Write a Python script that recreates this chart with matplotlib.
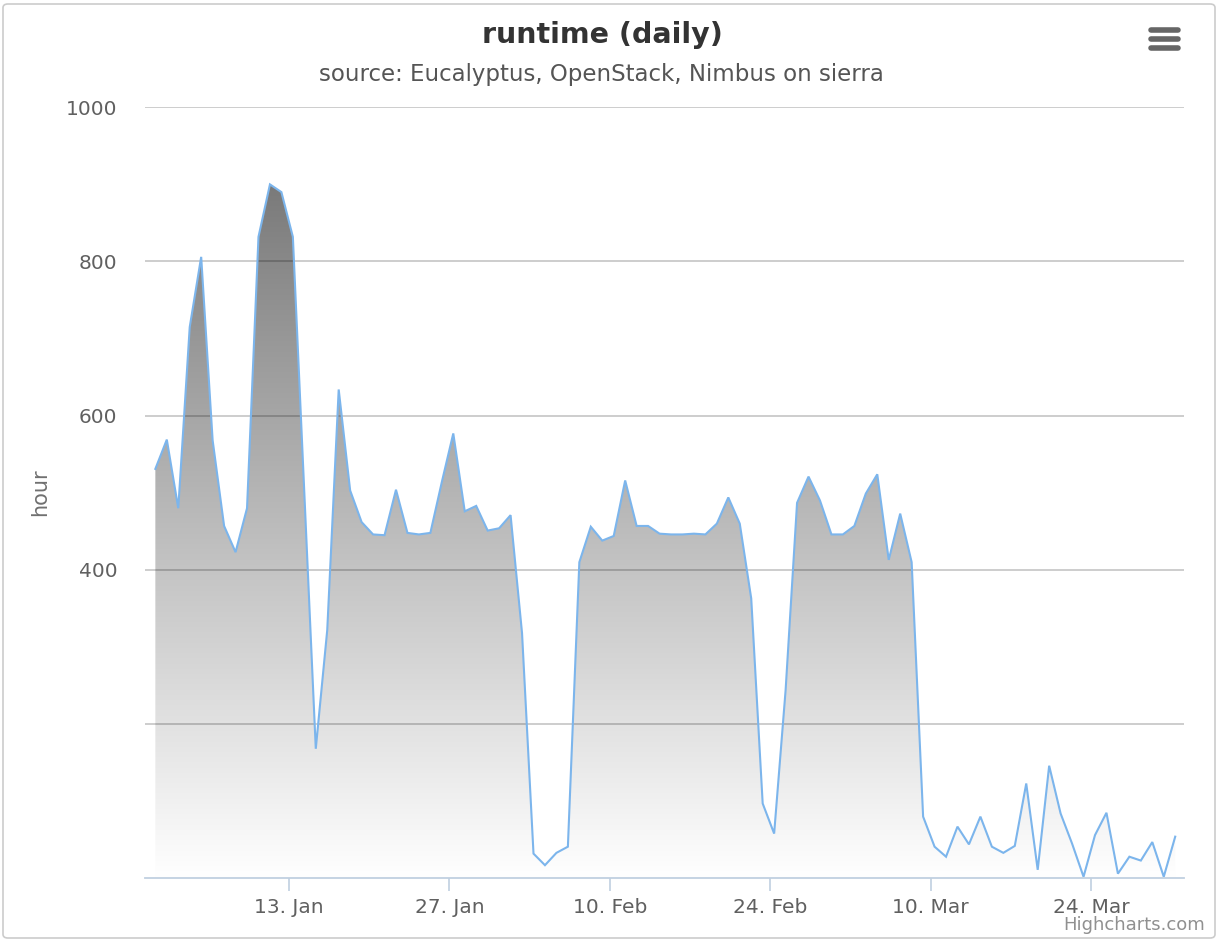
import datetime as dt
import numpy as np
import matplotlib
matplotlib.use("Agg")
import matplotlib.pyplot as plt
import matplotlib.dates as mdates
from matplotlib.colors import LinearSegmentedColormap
from matplotlib.patches import FancyBboxPatch

# ---- data ----
title = "runtime (daily)"
subtitle = "source: Eucalyptus, OpenStack, Nimbus on sierra"
y_label = "hour"
start_date = dt.datetime(2014, 1, 1, 8, 0)
runtime_hours = [
    531, 569, 480, 715, 806, 568, 457, 423, 480, 832,
    900, 890, 832, 500, 168, 322, 634, 503, 462, 446,
    445, 504, 448, 446, 448, 514, 577, 476, 483, 451,
    454, 471, 318, 32, 17, 33, 41, 410, 456, 438,
    444, 516, 457, 457, 447, 446, 446, 447, 446, 460,
    494, 460, 363, 97, 58, 244, 487, 521, 490, 446,
    446, 457, 499, 524, 413, 473, 410, 80, 41, 28,
    67, 44, 80, 41, 33, 42, 123, 11, 146, 84,
    45, 2, 56, 85, 6, 28, 23, 47, 2, 54,
]
dates = [start_date + dt.timedelta(days=i) for i in range(len(runtime_hours))]
x_tick_dates = [dt.datetime(2014, 1, 13), dt.datetime(2014, 1, 27), dt.datetime(2014, 2, 10),
                dt.datetime(2014, 2, 24), dt.datetime(2014, 3, 10), dt.datetime(2014, 3, 24)]
y_ticks = [200, 400, 600, 800, 1000]
y_tick_labels = ["", "400", "600", "800", "1000"]

# ---- figure ----
W, H = 1219, 941
fig = plt.figure(figsize=(W / 100, H / 100), dpi=100)
plt.rcParams['font.family'] = ['DejaVu Sans']

ax = fig.add_axes([145 / W, 1 - 878.3 / H, (1184 - 145) / W, (878.3 - 107.3) / H])

x = mdates.date2num(dates)
y = np.array(runtime_hours, dtype=float)

# gradient fill clipped to area
poly = ax.fill_between(x, 0, y, facecolor='none', edgecolor='none')
clip = poly.get_paths()[0]
cmap = LinearSegmentedColormap.from_list("g", ["#ffffff", "#7a7a7a"])
grad = np.linspace(0, 1, 256).reshape(-1, 1)
xl0 = mdates.date2num(dt.datetime(2014, 1, 1)) - 0.57
xl1 = mdates.date2num(dt.datetime(2014, 1, 1)) + 90.1
im = ax.imshow(grad, extent=[xl0, xl1, 0, y.max()], origin='lower', aspect='auto',
               cmap=cmap, zorder=1, interpolation='bilinear')
im.set_clip_path(clip, transform=ax.transData)

ax.plot(x, y, color='#7cb5ec', lw=1.5, zorder=3, solid_joinstyle='miter')

ax.set_xlim(xl0, xl1)
ax.set_ylim(0, 1000)

# grid
for v in y_ticks:
    ax.axhline(v, color='black', alpha=0.25, lw=1.1, zorder=2)

for s in ['top', 'right', 'left']:
    ax.spines[s].set_visible(False)
ax.spines['bottom'].set_color('#c0d0e0')
ax.spines['bottom'].set_linewidth(1.3)
ax.spines['bottom'].set_zorder(4)

ax.set_yticks(y_ticks)
ax.set_yticklabels(y_tick_labels)
ax.tick_params(axis='y', length=0, pad=20, labelsize=14.5, labelcolor='#606060')

ax.set_xticks(mdates.date2num(x_tick_dates))
ax.xaxis.set_major_formatter(mdates.DateFormatter('%d. %b'))
ax.tick_params(axis='x', length=9, width=1.2, color='#c0d0e0', pad=5,
               labelsize=14.5, labelcolor='#606060')

fig.text(40 / W, 1 - 492 / H, y_label, rotation=90, ha='center', va='center',
         fontsize=15, color='#707070')

fig.text(602 / W, 1 - 35 / H, title, ha='center', va='center', fontsize=20.5,
         fontweight='bold', color='#333333')
fig.text(601 / W, 1 - 75 / H, subtitle, ha='center', va='center', fontsize=16.5,
         color='#555555')

fig.text(1205 / W, 1 - 925 / H, "Highcharts.com", ha='right', va='center',
         fontsize=13, color='#909090')

# menu icon
for yy in [30, 39, 48]:
    fig.add_artist(plt.Line2D([1151 / W, 1178 / W], [1 - yy / H, 1 - yy / H],
                              color='#666666', lw=4, solid_capstyle='round'))

# border
fig.add_artist(FancyBboxPatch((3 / W, 3 / H), (W - 7) / W, (H - 7) / H,
                              boxstyle="round,pad=0,rounding_size=0.004",
                              transform=fig.transFigure, fill=False,
                              edgecolor='#cccccc', lw=1.2))

fig.savefig("out.png", dpi=100)
